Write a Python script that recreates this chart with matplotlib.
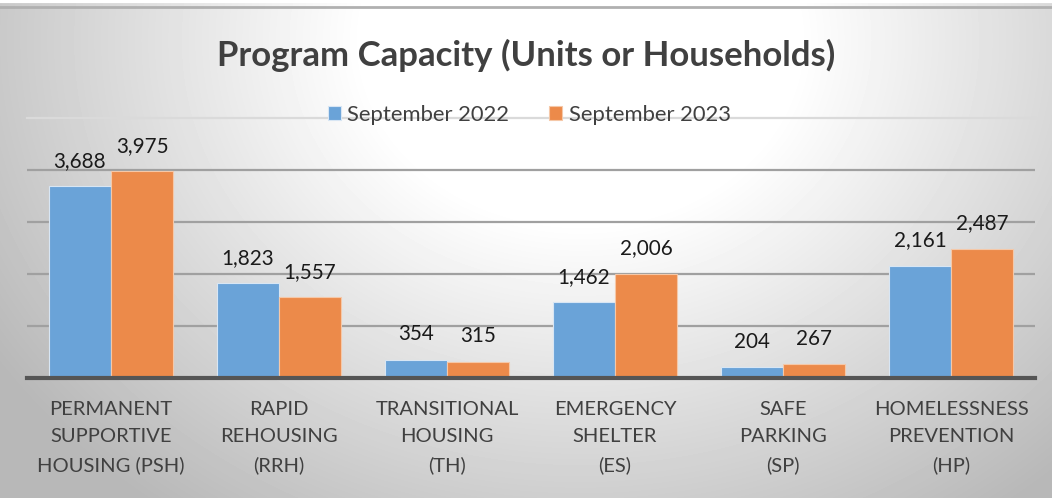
import numpy as np
import matplotlib.pyplot as plt

plt.rcParams['font.family'] = ['Lato', 'DejaVu Sans']

# data
categories = ['PERMANENT\nSUPPORTIVE\nHOUSING (PSH)', 'RAPID\nREHOUSING\n(RRH)',
              'TRANSITIONAL\nHOUSING\n(TH)', 'EMERGENCY\nSHELTER\n(ES)',
              'SAFE\nPARKING\n(SP)', 'HOMELESSNESS\nPREVENTION\n(HP)']
sep_2022 = [3688, 1823, 354, 1462, 204, 2161]
sep_2023 = [3975, 1557, 315, 2006, 267, 2487]
series_names = ['September 2022', 'September 2023']

W, H = 1052, 498
fig = plt.figure(figsize=(W / 100, H / 100), dpi=100)

# gradient background
bg = fig.add_axes([0, 0, 1, 1], zorder=-10)
yy, xx = np.mgrid[0:H, 0:W]
r = np.sqrt(((xx - 580) / 620.0) ** 2 + ((yy - 40) / 520.0) ** 2)
shade = np.clip(1.0 - 0.27 * np.clip(r - 0.35, 0, None) / 0.75, 0.72, 1.0)
bg.imshow(shade, cmap='gray', vmin=0, vmax=1, aspect='auto',
          extent=[0, W, H, 0], interpolation='bilinear')
bg.set_xlim(0, W)
bg.set_ylim(H, 0)
bg.axis('off')
# top border line
bg.plot([0, W], [6.5, 6.5], color='#b0b0b0', lw=2)
bg.plot([0, W], [1, 1], color='white', lw=3)

ax = fig.add_axes([27 / W, (H - 378) / H, (1035 - 27) / W, (378 - 118) / H])
ax.set_facecolor('none')

x = np.arange(len(categories))
bw = 0.37
b1 = ax.bar(x - bw / 2, sep_2022, bw, color='#6aa3d8', edgecolor='#d8e6f4', lw=0.8,
            zorder=3, label=series_names[0])
b2 = ax.bar(x + bw / 2, sep_2023, bw, color='#ec8a4a', edgecolor='#f5c8a8', lw=0.8,
            zorder=3, label=series_names[1])

for bars, vals in ((b1, sep_2022), (b2, sep_2023)):
    for b, v in zip(bars, vals):
        ax.annotate(f'{v:,}', (b.get_x() + b.get_width() / 2, v), xytext=(0, 11),
                    textcoords='offset points', ha='center', va='bottom',
                    fontsize=14.9, color='#1a1a1a')

ax.set_xlim(-0.5, len(categories) - 0.5)
ax.set_ylim(0, 5000)
ax.set_yticks([1000, 2000, 3000, 4000])
ax.yaxis.grid(True, color='#a0a0a0', lw=1.6, zorder=0)
ax.axhline(5000, color='#dadada', lw=1.6, zorder=0, clip_on=False)
ax.tick_params(axis='y', left=False, labelleft=False)
ax.tick_params(axis='x', bottom=False, pad=13)
ax.set_xticks(x)
ax.set_xticklabels(categories, fontsize=14.5, color='#404040', linespacing=1.75)
for s in ['top', 'right', 'left']:
    ax.spines[s].set_visible(False)
ax.spines['bottom'].set_color('#555555')
ax.spines['bottom'].set_linewidth(3)
ax.spines['bottom'].set_zorder(4)

fig.text(0.5, (H - 55) / H, 'Program Capacity (Units or Households)', ha='center',
         va='center', fontsize=25, fontweight='bold', color='#404040')

leg = fig.legend(handles=[b1, b2], loc='center', bbox_to_anchor=(0.503, (H - 115) / H),
                 ncol=2, frameon=False, fontsize=15.8, handlelength=0.6,
                 handleheight=0.6, handletextpad=0.3, columnspacing=1.8)
for t in leg.get_texts():
    t.set_color('#404040')

fig.savefig('out.png', dpi=100)
